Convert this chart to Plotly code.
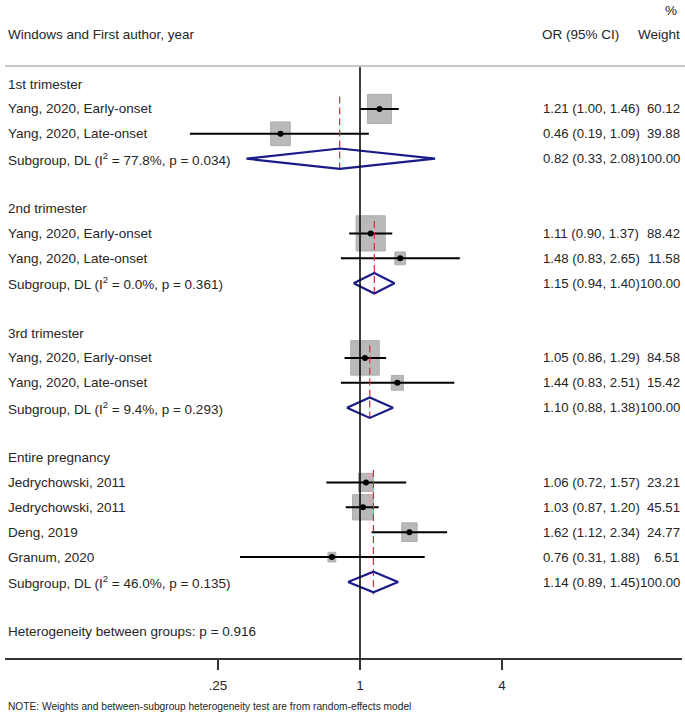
import math
import plotly.graph_objects as go

# ---------------- data ----------------
group_titles = ["1st trimester", "2nd trimester", "3rd trimester", "Entire pregnancy"]
group_sizes = [2, 2, 2, 4]

study_labels = [
    "Yang, 2020, Early-onset", "Yang, 2020, Late-onset",
    "Yang, 2020, Early-onset", "Yang, 2020, Late-onset",
    "Yang, 2020, Early-onset", "Yang, 2020, Late-onset",
    "Jedrychowski, 2011", "Jedrychowski, 2011", "Deng, 2019", "Granum, 2020",
]
study_or = [1.21, 0.46, 1.11, 1.48, 1.05, 1.44, 1.06, 1.03, 1.62, 0.76]
study_lo = [1.00, 0.19, 0.90, 0.83, 0.86, 0.83, 0.72, 0.87, 1.12, 0.31]
study_hi = [1.46, 1.09, 1.37, 2.65, 1.29, 2.51, 1.57, 1.20, 2.34, 1.88]
study_wt = [60.12, 39.88, 88.42, 11.58, 84.58, 15.42, 23.21, 45.51, 24.77, 6.51]

sub_i2 = ["77.8", "0.0", "9.4", "46.0"]
sub_p = ["0.034", "0.361", "0.293", "0.135"]
sub_or = [0.82, 1.15, 1.10, 1.14]
sub_lo = [0.33, 0.94, 0.88, 0.89]
sub_hi = [2.08, 1.40, 1.38, 1.45]
sub_wt = [100.00, 100.00, 100.00, 100.00]

het_text = "Heterogeneity between groups: p = 0.916"
note_text = "NOTE: Weights and between-subgroup heterogeneity test are from random-effects model"
tick_vals = [0.25, 1, 4]
tick_text = [".25", "1", "4"]

# ---------------- layout constants (pixel coords) ----------------
W, H = 685, 716
PLOT_L_PX, PLOT_R_PX = 5, 682
TOP_PX, BOT_PX = 66, 658
ROW0_PX, ROW_PX = 84, 24.9
PX_PER_DEC = 235.85
X1_PX = 360
BOX_W_K, BOX_H_K = 3.1, 3.75   # box size (px) per sqrt(weight)

FONT = "Liberation Sans, Arial, sans-serif"
TXT = "#262626"
FS = 13.5
FS_R = 13.2

plot_w = PLOT_R_PX - PLOT_L_PX


def xpaper(px):
    return (px - PLOT_L_PX) / plot_w


def ypaper(py):
    return (BOT_PX - py) / (BOT_PX - TOP_PX)


y_top = (TOP_PX - ROW0_PX) / ROW_PX
y_bot = (BOT_PX - ROW0_PX) / ROW_PX
x_lo = (PLOT_L_PX - X1_PX) / PX_PER_DEC
x_hi = (PLOT_R_PX - X1_PX) / PX_PER_DEC

fig = go.Figure()
ann = []


def text(x_px, row, s, anchor="left", size=FS, yref="y"):
    ann.append(dict(x=xpaper(x_px), xref="paper", y=row, yref=yref, text=s,
                    showarrow=False, xanchor=anchor, yanchor="middle",
                    font=dict(family=FONT, size=size, color=TXT)))


box_px, box_py = [], []
pt_x, pt_y = [], []
line_traces = []
row = 0
k = 0
for g, title in enumerate(group_titles):
    text(6, row, title)
    first_row = row + 1
    for j in range(group_sizes[g]):
        row += 1
        text(6, row, study_labels[k])
        text(541, row, f"{study_or[k]:.2f} ({study_lo[k]:.2f}, {study_hi[k]:.2f})", size=FS_R)
        text(682, row, f"{study_wt[k]:.2f}", anchor="right", size=FS_R)
        # weight box as a rectangle around the estimate
        hw = BOX_W_K * math.sqrt(study_wt[k]) / 2 / PX_PER_DEC   # half width in log10 units
        hh = BOX_H_K * math.sqrt(study_wt[k]) / 2 / ROW_PX       # half height in rows
        xl, xr = study_or[k] * 10 ** (-hw), study_or[k] * 10 ** hw
        box_px += [xl, xr, xr, xl, xl, None]
        box_py += [row - hh, row - hh, row + hh, row + hh, row - hh, None]
        pt_x.append(study_or[k]); pt_y.append(row)
        line_traces.append(go.Scatter(x=[study_lo[k], study_hi[k]], y=[row, row], mode="lines",
                                      line=dict(color="black", width=2), hoverinfo="skip",
                                      showlegend=False))
        k += 1
    row += 1
    text(6, row, f"Subgroup, DL (I<sup>2</sup> = {sub_i2[g]}%, p = {sub_p[g]})")
    text(541, row, f"{sub_or[g]:.2f} ({sub_lo[g]:.2f}, {sub_hi[g]:.2f})", size=FS_R)
    text(682, row, f"{sub_wt[g]:.2f}", anchor="right", size=FS_R)
    line_traces.append(go.Scatter(x=[sub_or[g], sub_or[g]], y=[first_row - 0.5, row + 0.5],
                                  mode="lines",
                                  line=dict(color="#d8283a", width=1.2, dash="7px,4px"),
                                  hoverinfo="skip", showlegend=False))
    h = 0.41
    line_traces.append(go.Scatter(x=[sub_lo[g], sub_or[g], sub_hi[g], sub_or[g], sub_lo[g]],
                                  y=[row, row - h, row, row + h, row], mode="lines",
                                  line=dict(color="#1a1a88", width=2.2), hoverinfo="skip",
                                  showlegend=False))
    row += 2

text(6, row, het_text)

# boxes first
fig.add_trace(go.Scatter(x=box_px, y=box_py, mode="lines", fill="toself",
                         fillcolor="#b9b9b9", line=dict(color="#adadad", width=1),
                         hoverinfo="skip", showlegend=False))
for t in line_traces:
    fig.add_trace(t)
fig.add_trace(go.Scatter(x=pt_x, y=pt_y, mode="markers",
                         marker=dict(symbol="circle", size=6, color="black"),
                         hoverinfo="skip", showlegend=False))
fig.add_trace(go.Scatter(x=[1, 1], y=[y_top, y_bot], mode="lines",
                         line=dict(color="black", width=1.5), hoverinfo="skip",
                         showlegend=False))

# headers and note
text(6, ypaper(35), "Windows and First author, year", yref="paper")
text(540, ypaper(35), "OR (95% CI)", yref="paper")
text(682, ypaper(35), "Weight", anchor="right", yref="paper")
text(679, ypaper(10), "%", anchor="right", yref="paper")
text(6, ypaper(706), note_text, size=10.2, yref="paper")

fig.update_layout(
    width=W, height=H,
    margin=dict(l=PLOT_L_PX, r=W - PLOT_R_PX, t=TOP_PX, b=H - BOT_PX, pad=0),
    autosize=False,
    plot_bgcolor="white", paper_bgcolor="white",
    annotations=ann,
    shapes=[dict(type="line", xref="paper", yref="paper", x0=0, x1=xpaper(W),
                 y0=1, y1=1, line=dict(color="#c8c8c8", width=2))],
    xaxis=dict(type="log", range=[x_lo, x_hi], tickvals=tick_vals, ticktext=tick_text,
               ticks="outside", ticklen=10, tickwidth=1.5, tickcolor="#333",
               showline=True, linecolor="#333", linewidth=1.5, showgrid=False, zeroline=False,
               ticklabelstandoff=4,
               tickfont=dict(family=FONT, size=FS, color=TXT)),
    yaxis=dict(range=[y_bot, y_top], visible=False, showgrid=False, zeroline=False),
    showlegend=False,
)

fig.write_html("out.html", config={"displayModeBar": False},
               post_script="document.body.style.margin='0';document.body.style.overflow='hidden';")
